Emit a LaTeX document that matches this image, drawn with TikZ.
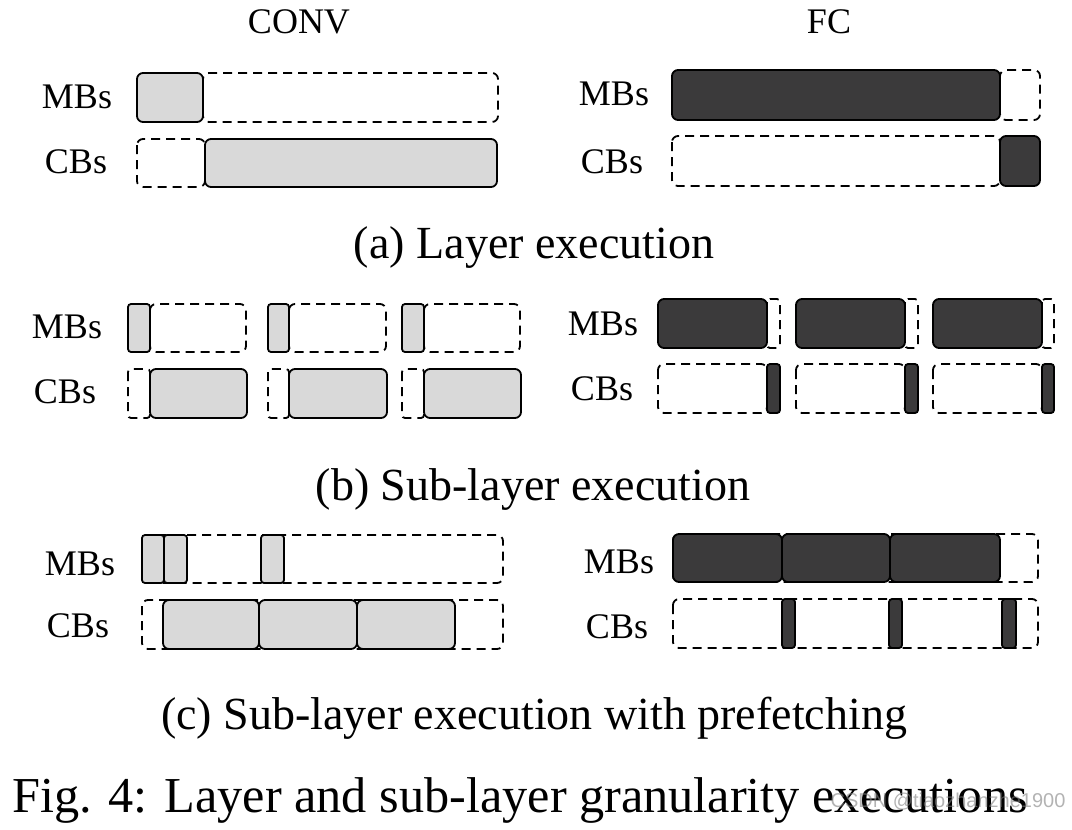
\documentclass[tikz,border=0pt]{standalone}
\usepackage{fontspec}
\setmainfont{Liberation Serif}
\newfontfamily\wmfont{Liberation Sans}
\definecolor{lgrey}{HTML}{D9D9D9}
\definecolor{dgrey}{HTML}{3B3A3B}
\begin{document}
\begin{tikzpicture}[x=1pt,y=-1pt,
  lbl/.style={font=\fontsize{36}{40}\selectfont, anchor=base, inner sep=0pt},
  subcap/.style={font=\fontsize{46}{50}\selectfont, anchor=base, inner sep=0pt},
  dbox/.style={draw=black, line width=1.8pt, dash pattern=on 9pt off 6pt, rounded corners=6pt},
  gbox/.style={draw=black, fill=lgrey, line width=1.8pt, rounded corners=6pt},
  kbox/.style={draw=black, fill=dgrey, line width=1.8pt, rounded corners=6pt},
  narrow/.style={rounded corners=3pt}]
\useasboundingbox (0,0) rectangle (1072,830);

% ---------- (a) Layer execution ----------
\node[lbl] (conv) at (299,33) {CONV};
\node[lbl] (fc) at (829,33) {FC};
\node[lbl] (amb1) at (77,108) {MBs};
\node[lbl] (acb1) at (76,173) {CBs};
\node[lbl] (amb2) at (614,105) {MBs};
\node[lbl] (acb2) at (612,173) {CBs};

\draw[dbox] (203,73) rectangle (498,122);
\draw[gbox] (137,73) rectangle (203,122);
\draw[dbox] (137,139) rectangle (205,187);
\draw[gbox] (205,139) rectangle (497,187);

\draw[dbox] (1000,70) rectangle (1040,120);
\draw[kbox] (672,70) rectangle (1000,120);
\draw[dbox] (672,136) rectangle (1000,186);
\draw[kbox] (1000,136) rectangle (1040,186);

\node[subcap] (capa) at (534,258) {(a) Layer execution};

% ---------- (b) Sub-layer execution ----------
\node[lbl] (bmb1) at (67,338) {MBs};
\node[lbl] (bcb1) at (65,403) {CBs};
\node[lbl] (bmb2) at (603,335) {MBs};
\node[lbl] (bcb2) at (602,400) {CBs};

\foreach \a/\b/\c in {128/150/246, 268/289/386, 402/424/520}{
  \draw[dbox] (\b,304) rectangle (\c,352);
  \draw[gbox,narrow] (\a,304) rectangle (\b,352);
  \draw[dbox,narrow] (\a,369) rectangle (\b,418);
  \draw[gbox] (\b,369) rectangle (\c+1,418);
}
\foreach \a/\b/\c in {658/767/780, 796/905/918, 933/1042/1054}{
  \draw[dbox,narrow] (\b,299) rectangle (\c,348);
  \draw[kbox] (\a,299) rectangle (\b,348);
  \draw[dbox] (\a,364) rectangle (\b,413);
  \draw[kbox,narrow] (\b,364) rectangle (\c,413);
}

\node[subcap] (capb) at (533,500) {(b) Sub-layer execution};

% ---------- (c) Sub-layer execution with prefetching ----------
\node[lbl] (cmb1) at (80,575) {MBs};
\node[lbl] (ccb1) at (78,637) {CBs};
\node[lbl] (cmb2) at (619,573) {MBs};
\node[lbl] (ccb2) at (617,638) {CBs};

\draw[dbox] (142,535) rectangle (503,583);
\draw[gbox,narrow] (142,535) rectangle (164,583);
\draw[gbox,narrow] (164,535) rectangle (187,583);
\draw[gbox,narrow] (261,535) rectangle (284,583);

\draw[dbox] (142,600) rectangle (503,649);
\draw[gbox] (163,600) rectangle (259,649);
\draw[gbox] (259,600) rectangle (357,649);
\draw[gbox] (357,600) rectangle (455,649);

\draw[dbox] (673,534) rectangle (1038,582);
\draw[kbox] (673,534) rectangle (782,582);
\draw[kbox] (782,534) rectangle (890,582);
\draw[kbox] (890,534) rectangle (1000,582);

\draw[dbox] (673,599) rectangle (1038,648);
\draw[kbox,narrow] (782,599) rectangle (795,648);
\draw[kbox,narrow] (889,599) rectangle (902,648);
\draw[kbox,narrow] (1002,599) rectangle (1016,648);

\node[subcap] (capc) at (534,729) {(c) Sub-layer execution with prefetching};

% ---------- figure caption ----------
\node[font=\fontsize{50.3}{55}\selectfont, anchor=base west, inner sep=0pt] (fig) at (12,812)
  {Fig. 4: Layer and sub-layer granularity executions};
\node[font=\wmfont\fontsize{20}{24}\selectfont, text=gray, opacity=0.6, inner sep=0pt] (wm) at (948,802)
  {CSDN @tiaozhanzhe1900};
\end{tikzpicture}
\end{document}
